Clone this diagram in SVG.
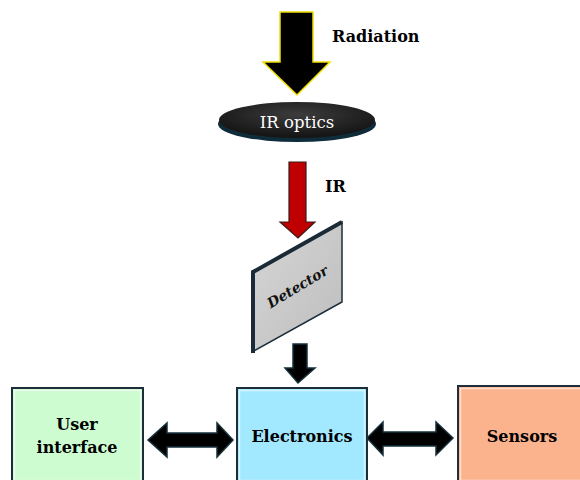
<svg xmlns="http://www.w3.org/2000/svg" width="580" height="480" viewBox="0 0 580 480">
<defs>
<style>
.lbl{font-family:"DejaVu Serif","Liberation Serif",serif;font-weight:bold;font-size:16px;fill:#000;text-anchor:middle}
.box{stroke:#1e2d3a;stroke-width:2}
.hi{fill:none;stroke:#ffffff;stroke-opacity:0.55;stroke-width:1.5}
.arr{fill:#000;stroke:#16303c;stroke-width:1.5;stroke-linejoin:miter}
</style>
<radialGradient id="lens" cx="0.5" cy="0.35" r="0.6">
<stop offset="0" stop-color="#3c3c3c"/>
<stop offset="1" stop-color="#161616"/>
</radialGradient>
<linearGradient id="det" x1="0" y1="0" x2="1" y2="1">
<stop offset="0" stop-color="#d6d6d6"/>
<stop offset="1" stop-color="#bdbdbd"/>
</linearGradient>
</defs>

<g id="connectors">
<polygon id="radiation-arrow" points="280,12 313,12 313,62 330,62 297,95 263,62 280,62" fill="#000" stroke="#f0e000" stroke-width="1.5"/>
<polygon id="ir-arrow" points="289,162 306,162 306,222 315,222 298,238 280,222 289,222" fill="#c00000" stroke="#3a1a1a" stroke-width="1.2"/>
<polygon id="det-arrow" class="arr" points="293,344 307,344 307,368 315,368 298,383 285,368 293,368"/>
<polygon id="ui-arrow" class="arr" points="148,440 167,423 167,433 217,433 217,423 233,440 217,457 217,447 167,447 167,457"/>
<polygon id="sens-arrow" class="arr" points="367,438 383,422 383,432 436,432 436,422 453,438 436,455 436,446 383,446 383,455"/>
</g>

<g id="radiation-label"><text class="lbl" x="332" y="42" style="text-anchor:start">Radiation</text></g>
<g id="ir-label"><text class="lbl" x="325" y="192" style="text-anchor:start">IR</text></g>

<g id="ir-optics">
<ellipse cx="297" cy="124" rx="79" ry="18" fill="#0f2c3a"/>
<ellipse cx="297" cy="120" rx="78" ry="18" fill="url(#lens)"/>
<text x="297" y="128" style="font-family:'DejaVu Serif','Liberation Serif',serif;font-size:16.5px;fill:#ffffff;text-anchor:middle">IR optics</text>
</g>

<g id="detector">
<polygon points="252,272 342,222 342,302 252,352" fill="url(#det)" stroke="#1e2e3a" stroke-width="1.5"/>
<polyline points="253,353 253,272 342,222" fill="none" stroke="#1a2a36" stroke-width="4"/>
<text x="0" y="0" transform="translate(300,291) rotate(-31)" style="font-family:'DejaVu Serif','Liberation Serif',serif;font-weight:bold;font-style:italic;font-size:14px;fill:#111;text-anchor:middle">Detector</text>
</g>

<g id="user-interface">
<rect class="box" x="12" y="388" width="131" height="94" fill="#ccfcd0"/>
<rect class="hi" x="14.5" y="390.5" width="126" height="90"/>
<text class="lbl" x="77" y="430">User</text>
<text class="lbl" x="77" y="453">interface</text>
</g>

<g id="electronics">
<rect class="box" x="237" y="388" width="130" height="94" fill="#a2e8fe"/>
<rect class="hi" x="239.5" y="390.5" width="125" height="90"/>
<text class="lbl" x="302" y="442">Electronics</text>
</g>

<g id="sensors">
<rect class="box" x="458" y="386" width="130" height="96" fill="#fbb38e"/>
<rect class="hi" x="460.5" y="388.5" width="125" height="92"/>
<text class="lbl" x="522" y="442">Sensors</text>
</g>
</svg>
